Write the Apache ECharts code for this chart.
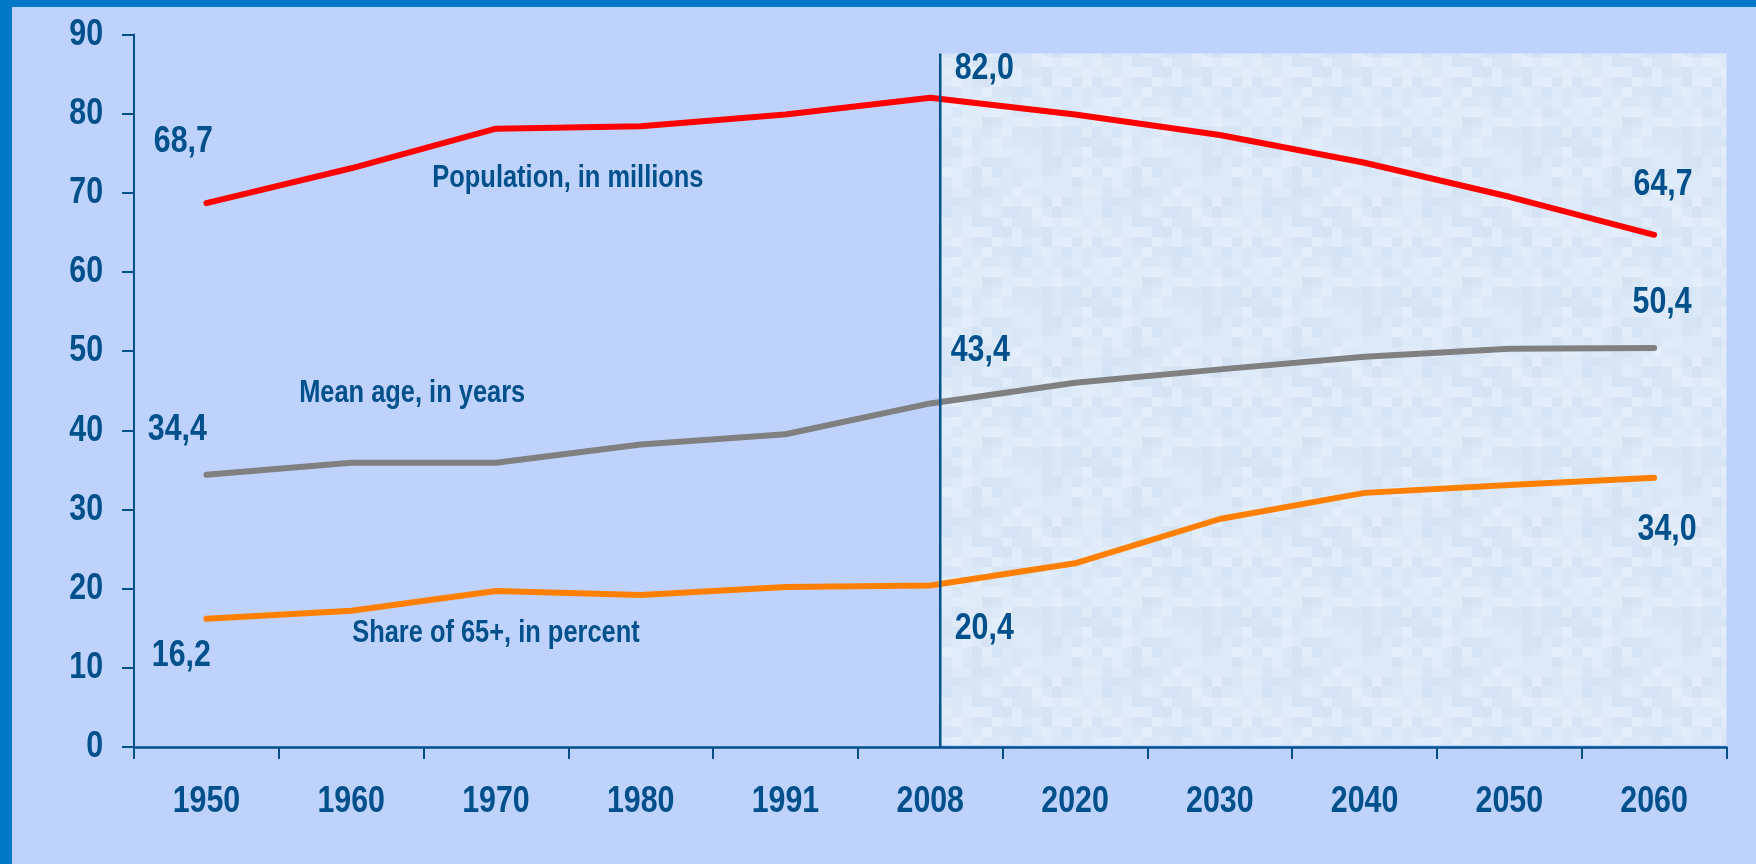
<!DOCTYPE html>
<html>
<head>
<meta charset="utf-8">
<title>Population, mean age and share of 65+</title>
<script src="https://cdn.jsdelivr.net/npm/echarts@6/dist/echarts.min.js"></script>
<style>
  html, body { margin: 0; padding: 0; width: 1756px; height: 864px; overflow: hidden; background: #0078c8; }
  #chart { position: absolute; left: 12px; top: 7px; width: 1744px; height: 857px; }
</style>
</head>
<body>
<div id="chart"></div>
<script>
// Years on the category axis
const years = ['1950', '1960', '1970', '1980', '1991', '2008', '2020', '2030', '2040', '2050', '2060'];
// Population, in millions
const population = [68.7, 73.1, 78.1, 78.4, 79.9, 82.0, 79.9, 77.3, 73.8, 69.5, 64.7];
// Mean age, in years
const meanAge = [34.4, 35.9, 35.9, 38.2, 39.5, 43.4, 46.0, 47.7, 49.3, 50.3, 50.4];
// Share of 65+, in percent
const share65 = [16.2, 17.2, 19.7, 19.2, 20.2, 20.4, 23.2, 28.8, 32.1, 33.1, 34.0];
// Value axis range and tick labels
const yMin = 0, yMax = 90, yStep = 10;
const yTickLabels = ['0', '10', '20', '30', '40', '50', '60', '70', '80', '90'];
// Start of the projection period
const projectionStart = '2008';

const TEXT = '#00508c';
const FONT_FAMILY = "'Liberation Sans', Arial, sans-serif";
const NARROW = 0.82; // horizontal squeeze giving a narrow bold face

const fmt = v => v.toFixed(1).replace('.', ',');

function lineSeries(name, values, color) {
  return {
    name: name, type: 'line', data: values,
    symbol: 'none',
    lineStyle: { color: color, width: 6, cap: 'round', join: 'round' },
    itemStyle: { color: color },
    emphasis: { disabled: true },
    silent: true, z: 3
  };
}

const chart = echarts.init(document.getElementById('chart'), null, { renderer: 'canvas' });

chart.setOption({
  backgroundColor: '#bfd2fc',
  animation: false,
  grid: { left: 122, right: 29.5, top: 27.5, bottom: 117, containLabel: false },
  xAxis: {
    type: 'category', data: years, boundaryGap: true,
    axisLine: { lineStyle: { color: TEXT, width: 2.5 } },
    axisTick: { show: true, length: 12, lineStyle: { color: TEXT, width: 2 } },
    axisLabel: { show: false },
    splitLine: { show: false }
  },
  yAxis: {
    type: 'value', min: yMin, max: yMax, interval: yStep,
    axisLine: { show: true, lineStyle: { color: TEXT, width: 2 } },
    axisTick: { show: true, length: 12, lineStyle: { color: TEXT, width: 2 } },
    axisLabel: { show: false },
    splitLine: { show: false }
  },
  series: [
    lineSeries('Population, in millions', population, '#ff0000'),
    lineSeries('Mean age, in years', meanAge, '#808080'),
    lineSeries('Share of 65+, in percent', share65, '#ff8000')
  ]
});

// Pale textured panel behind the projection years
function makeTexture() {
  const c = document.createElement('canvas');
  const cell = 10, n = 16;
  c.width = cell * n; c.height = cell * n;
  const ctx = c.getContext('2d');
  for (let i = 0; i < n; i++) {
    for (let j = 0; j < n; j++) {
      const h = Math.sin(i * 12.9898 + j * 78.233) * 43758.5453;
      const s = h - Math.floor(h);
      const r = Math.round(212 + s * 16), g = Math.round(227 + s * 11), b = Math.round(244 + s * 7);
      ctx.fillStyle = 'rgb(' + r + ',' + g + ',' + b + ')';
      ctx.fillRect(i * cell, j * cell, cell, cell);
    }
  }
  return c;
}

// Narrow bold text, centred or right-aligned on (x, y)
function label(x, y, text, size, align) {
  return {
    type: 'text', x: x, y: y, scaleX: NARROW, silent: true, z: 20,
    style: {
      text: text, align: align || 'center', verticalAlign: 'middle',
      fill: TEXT, fontFamily: FONT_FAMILY, fontWeight: 'bold', fontSize: size
    }
  };
}

const toX = c => chart.convertToPixel({ xAxisIndex: 0 }, c);
const toY = v => chart.convertToPixel({ yAxisIndex: 0 }, v);
const grid = chart.getModel().getComponent('grid').coordinateSystem.getRect();
const axisY = toY(yMin);

const graphics = [];

// projection panel and divider
const dividerShift = 10;
const x0 = toX(projectionStart) + dividerShift;
const panelTop = toY(87.6);
graphics.push({
  type: 'rect', silent: true, z: 0,
  shape: { x: x0, y: panelTop, width: grid.x + grid.width - x0, height: axisY - 2 - panelTop },
  style: { fill: { image: makeTexture(), repeat: 'repeat' } }
});
graphics.push({
  type: 'line', silent: true, z: 10,
  shape: { x1: x0, y1: panelTop, x2: x0, y2: axisY },
  style: { stroke: TEXT, lineWidth: 2.5 }
});

// axis tick labels
yTickLabels.forEach((t, i) => graphics.push(label(grid.x - 31, toY(yMin + i * yStep), t, 37, 'right')));
years.forEach(y => graphics.push(label(toX(y), axisY + 55, y, 37, 'center')));

// value labels at the first year, 2008 and the last year
const last = years.length - 1;
const mid = years.indexOf(projectionStart);
const valueLabels = [
  [population, { 0: [-23, -61], [mid]: [54, -29], [last]: [9, -50] }],
  [meanAge,    { 0: [-29, -45], [mid]: [50, -53], [last]: [8, -45] }],
  [share65,    { 0: [-25, 37],  [mid]: [54, 43],  [last]: [13, 52] }]
];
valueLabels.forEach(([values, offsets]) => {
  Object.keys(offsets).forEach(k => {
    const i = +k;
    const p = chart.convertToPixel({ xAxisIndex: 0, yAxisIndex: 0 }, [years[i], values[i]]);
    graphics.push(label(p[0] + offsets[k][0], p[1] + offsets[k][1], fmt(values[i]), 37, 'center'));
  });
});

// series names placed beside their lines
[
  ['Population, in millions', '1970', 71.8, 72],
  ['Mean age, in years', '1960', 44.6, 61],
  ['Share of 65+, in percent', '1970', 14.4, 0]
].forEach(([text, year, v, dx]) => {
  graphics.push(label(toX(year) + dx, toY(v), text, 31, 'center'));
});

chart.setOption({ graphic: graphics });
</script>
</body>
</html>
